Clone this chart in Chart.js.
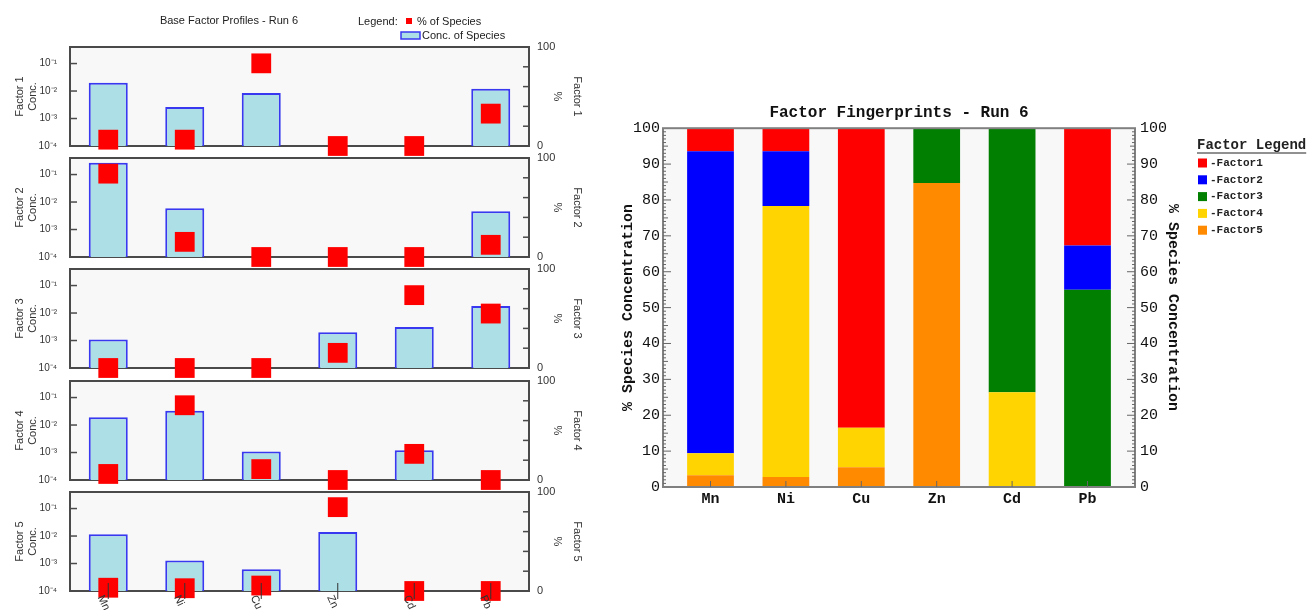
<!DOCTYPE html>
<html>
<head>
<meta charset="utf-8">
<script src="https://cdn.jsdelivr.net/npm/chart.js@4.4.1/dist/chart.umd.min.js"></script>
<style>
  body { margin: 0; background: #fff; width: 1308px; height: 610px; overflow: hidden; position: relative; }
  canvas { position: absolute; }
</style>
</head>
<body>
<canvas id="p0"></canvas>
<canvas id="p1"></canvas>
<canvas id="p2"></canvas>
<canvas id="p3"></canvas>
<canvas id="p4"></canvas>
<canvas id="fp"></canvas>
<script>
// species on the x axis
const species = ['Mn', 'Ni', 'Cu', 'Zn', 'Cd', 'Pb'];
const factorNames = ['Factor1', 'Factor2', 'Factor3', 'Factor4', 'Factor5'];

// % of species per factor (also the fingerprint stack)
const pctF1 = [6.4, 6.4, 83.5, 0, 0, 32.7];
const pctF2 = [84.2, 15.3, 0, 0, 0, 12.3];
const pctF3 = [0, 0, 0, 15.3, 73.6, 55.0];
const pctF4 = [6.1, 75.5, 11.0, 0, 26.4, 0];
const pctF5 = [3.3, 2.8, 5.5, 84.7, 0, 0];

// concentration of species per factor, null = no bar
const concF1 = [2.0e-2, 2.6e-3, 8.5e-3, null, null, 1.2e-2];
const concF2 = [2.7e-1, 6.0e-3, null, null, null, 4.6e-3];
const concF3 = [1.1e-3, null, null, 2.0e-3, 3.1e-3, 1.8e-2];
const concF4 = [1.9e-2, 3.3e-2, 1.1e-3, null, 1.2e-3, null];
const concF5 = [1.15e-2, 1.3e-3, 6.2e-4, 1.4e-2, null, null];

// tick labels
const concTicks = [1e-4, 1e-3, 1e-2, 1e-1];
const concTickLabels = ['10⁻⁴', '10⁻³', '10⁻²', '10⁻¹'];
const pctTicks = [0, 10, 20, 30, 40, 50, 60, 70, 80, 90, 100];
const pctShown = [0, 50, 100];
const fpTicks = [0, 10, 20, 30, 40, 50, 60, 70, 80, 90, 100];

const pctByFactor = [pctF1, pctF2, pctF3, pctF4, pctF5];
const concByFactor = [concF1, concF2, concF3, concF4, concF5];
const factorColors = ['#ff0000', '#0000ff', '#007f00', '#ffd400', '#ff8a00'];

const sans = '"Liberation Sans", Arial, sans-serif';
const mono = '"Liberation Mono", "DejaVu Sans Mono", monospace';

function line(ctx, x1, y1, x2, y2) {
  ctx.beginPath(); ctx.moveTo(x1, y1); ctx.lineTo(x2, y2); ctx.stroke();
}

// ---- left: base factor profiles ----
const profileFrame = {
  id: 'profileFrame',
  beforeDraw(chart) {
    const {ctx, chartArea: a} = chart;
    ctx.save();
    ctx.fillStyle = '#f8f8f8';
    ctx.fillRect(a.left, a.top, a.width, a.height);
    ctx.restore();
  },
  beforeDatasetsDraw(chart) {
    const {ctx, chartArea: a, scales} = chart;
    ctx.save();
    ctx.strokeStyle = '#4a4a4a';
    ctx.lineWidth = 2;
    ctx.strokeRect(a.left, a.top, a.width, a.height);
    ctx.lineWidth = 1.5;
    scales.y.ticks.forEach(t => {
      if (t.value === concTicks[0]) return;
      const y = scales.y.getPixelForValue(t.value);
      line(ctx, a.left, y, a.left + 7, y);
    });
    scales.y1.ticks.forEach(t => {
      if (t.value === 0 || t.value === 100) return;
      const y = scales.y1.getPixelForValue(t.value);
      if (t.value === 50) line(ctx, a.right - 7, y, a.right + 6, y);
      else line(ctx, a.right - 6, y, a.right, y);
    });
    ctx.restore();
  },
  afterDraw(chart, args, opts) {
    const {ctx, chartArea: a, scales} = chart;
    ctx.save();
    if (opts.bottomLabels) {
      ctx.strokeStyle = '#333';
      ctx.lineWidth = 1;
      ctx.fillStyle = '#333';
      ctx.font = '11px ' + sans;
      ctx.textAlign = 'left';
      ctx.textBaseline = 'middle';
      species.forEach((s, i) => {
        const x = scales.x.getPixelForValue(i);
        line(ctx, x, a.bottom - 8, x, a.bottom + 8);
        ctx.save();
        ctx.translate(x - 8, a.bottom + 5);
        ctx.rotate(65 * Math.PI / 180);
        ctx.fillText(s, 0, 0);
        ctx.restore();
      });
    }
    if (opts.header) {
      const ds = chart.data.datasets;
      ctx.fillStyle = '#222';
      ctx.font = '11px ' + sans;
      ctx.textBaseline = 'middle';
      ctx.textAlign = 'center';
      ctx.fillText('Base Factor Profiles - Run 6', 229, 21);
      ctx.textAlign = 'left';
      ctx.fillText('Legend:', 358, 22);
      ctx.fillStyle = '#ff0000';
      ctx.fillRect(406, 18, 6, 6);
      ctx.fillStyle = '#222';
      ctx.fillText(ds[0].label, 417, 22);
      ctx.fillStyle = '#acdfe6';
      ctx.fillRect(401, 32, 19, 7);
      ctx.strokeStyle = '#3838f0';
      ctx.lineWidth = 1.5;
      ctx.strokeRect(401, 32, 19, 7);
      ctx.fillStyle = '#222';
      ctx.fillText(ds[1].label, 422, 36);
    }
    ctx.restore();
  }
};

const plotTops = [47, 158, 269, 381, 492];
const plotH = 99;

plotTops.forEach((top, k) => {
  const padTop = k === 0 ? 47 : 20;
  const padBottom = 20;
  const cv = document.getElementById('p' + k);
  cv.width = 600;
  cv.height = padTop + plotH + padBottom;
  cv.style.left = '0px';
  cv.style.top = (top - padTop) + 'px';
  const name = 'Factor ' + (k + 1);

  new Chart(cv, {
    type: 'bar',
    data: {
      labels: species,
      datasets: [
        {
          type: 'line',
          label: '% of Species',
          data: pctByFactor[k],
          yAxisID: 'y1',
          showLine: false,
          pointStyle: 'rect',
          pointRadius: 14,
          pointHoverRadius: 14,
          pointBackgroundColor: '#ff0000',
          pointBorderWidth: 0,
          clip: false,
          order: 0
        },
        {
          label: 'Conc. of Species',
          data: concByFactor[k],
          yAxisID: 'y',
          backgroundColor: '#acdfe6',
          borderColor: '#3838f0',
          borderWidth: 2,
          barPercentage: 0.51,
          categoryPercentage: 1,
          order: 1
        }
      ]
    },
    options: {
      responsive: false,
      animation: false,
      layout: { padding: { top: padTop, bottom: padBottom, left: 0, right: 0 } },
      plugins: {
        legend: { display: false },
        tooltip: { enabled: false },
        profileFrame: { header: k === 0, bottomLabels: k === 4 }
      },
      scales: {
        x: { display: false, offset: true },
        y: {
          type: 'logarithmic',
          position: 'left',
          min: 1e-4,
          max: 0.4,
          afterBuildTicks: s => { s.ticks = concTicks.map(v => ({ value: v })); },
          afterFit: s => { s.width = 70; },
          grid: { display: false, drawTicks: false },
          border: { display: false },
          ticks: {
            padding: 13,
            color: '#333',
            font: { family: sans, size: 10 },
            callback: (v, i) => concTickLabels[i]
          },
          title: {
            display: true,
            text: [name, 'Conc.'],
            color: '#333',
            font: { family: sans, size: 11 },
            padding: { top: 13, bottom: 0 }
          }
        },
        y1: {
          type: 'linear',
          position: 'right',
          min: 0,
          max: 100,
          afterBuildTicks: s => { s.ticks = pctTicks.map(v => ({ value: v })); },
          afterFit: s => { s.width = 71; },
          grid: { display: false, drawTicks: false },
          border: { display: false },
          ticks: {
            padding: 8,
            color: '#333',
            font: { family: sans, size: 11 },
            callback: v => pctShown.includes(v) ? String(v) : ''
          },
          title: {
            display: true,
            text: [name, '%'],
            color: '#333',
            font: { family: sans, size: 11, lineHeight: 1.82 },
            padding: { top: 13, bottom: 0 }
          }
        }
      }
    },
    plugins: [profileFrame]
  });
});

// ---- right: factor fingerprints ----
const fpFrame = {
  id: 'fpFrame',
  beforeDraw(chart) {
    const {ctx, chartArea: a} = chart;
    ctx.save();
    ctx.fillStyle = '#f8f8f8';
    ctx.fillRect(a.left, a.top, a.width, a.height);
    ctx.restore();
  },
  afterDatasetsDraw(chart) {
    const {ctx, chartArea: a, scales} = chart;
    ctx.save();
    ctx.strokeStyle = '#808080';
    ctx.lineWidth = 2;
    ctx.strokeRect(a.left, a.top, a.width, a.height);
    ctx.lineWidth = 1;
    ctx.strokeStyle = '#666';
    for (let v = 1; v < 100; v++) {
      const y = scales.y.getPixelForValue(v);
      const len = v % 10 === 0 ? 8 : (v % 5 === 0 ? 5 : 3);
      line(ctx, a.left, y, a.left + len, y);
      line(ctx, a.right - len, y, a.right, y);
    }
    species.forEach((s, i) => {
      const x = scales.x.getPixelForValue(i);
      line(ctx, x, a.bottom - 6, x, a.bottom);
    });

    // legend
    const lx = 597, ly = 50;
    ctx.fillStyle = '#222';
    ctx.textAlign = 'left';
    ctx.textBaseline = 'middle';
    ctx.font = 'bold 14px ' + mono;
    ctx.fillText('Factor Legend', lx, ly);
    const w = ctx.measureText('Factor Legend').width;
    ctx.strokeStyle = '#222';
    ctx.lineWidth = 1;
    line(ctx, lx, ly + 8, lx + w, ly + 8);
    ctx.font = 'bold 11px ' + mono;
    factorNames.forEach((n, i) => {
      const y = ly + 18 + i * 16.8;
      ctx.fillStyle = factorColors[i];
      ctx.fillRect(lx + 1, y - 4.5, 9, 9);
      ctx.fillStyle = '#222';
      ctx.fillText('-' + n, lx + 13, y);
    });
    ctx.restore();
  }
};

const fpCanvas = document.getElementById('fp');
fpCanvas.width = 708;
fpCanvas.height = 422;
fpCanvas.style.left = '600px';
fpCanvas.style.top = '95px';

const fpDatasets = [4, 3, 2, 1, 0].map(k => ({
  label: factorNames[k],
  data: pctByFactor[k].map((v, i) => ({ x: i, y: v })),
  backgroundColor: factorColors[k],
  borderWidth: 0,
  barPercentage: 0.62,
  categoryPercentage: 1
}));

new Chart(fpCanvas, {
  type: 'bar',
  data: { datasets: fpDatasets },
  options: {
    responsive: false,
    animation: false,
    layout: { padding: { top: 0, bottom: 0, left: 0, right: 123 } },
    plugins: {
      legend: { display: false },
      tooltip: { enabled: false },
      title: {
        display: true,
        fullSize: false,
        text: 'Factor Fingerprints - Run 6',
        color: '#111',
        font: { family: mono, size: 16, weight: 'bold' },
        padding: { top: 8, bottom: 6 }
      }
    },
    scales: {
      x: {
        type: 'linear',
        stacked: true,
        offset: false,
        min: -0.63,
        max: 5.63,
        afterBuildTicks: s => { s.ticks = species.map((c, i) => ({ value: i })); },
        afterFit: s => { s.height = 30; },
        grid: { display: false, drawTicks: false },
        border: { display: false },
        ticks: {
          padding: 3,
          color: '#111',
          font: { family: mono, size: 15, weight: 'bold' },
          callback: (v, i) => species[i]
        }
      },
      y: {
        stacked: true,
        min: 0,
        max: 100,
        afterBuildTicks: s => { s.ticks = fpTicks.map(v => ({ value: v })); },
        afterFit: s => { s.width = 63; },
        grid: { display: false, drawTicks: false },
        border: { display: false },
        ticks: { padding: 3, color: '#111', font: { family: mono, size: 15 } },
        title: {
          display: true,
          text: '% Species Concentration',
          color: '#111',
          font: { family: mono, size: 15, weight: 'bold' },
          padding: { top: 19, bottom: 0 }
        }
      },
      y2: {
        position: 'right',
        min: 0,
        max: 100,
        afterBuildTicks: s => { s.ticks = fpTicks.map(v => ({ value: v })); },
        afterFit: s => { s.width = 50; },
        grid: { display: false, drawTicks: false },
        border: { display: false },
        ticks: { padding: 5, color: '#111', font: { family: mono, size: 15 } },
        title: {
          display: true,
          text: '% Species Concentration',
          color: '#111',
          font: { family: mono, size: 15, weight: 'bold' },
          padding: { top: 3, bottom: 0 }
        }
      }
    }
  },
  plugins: [fpFrame]
});
</script>
</body>
</html>
